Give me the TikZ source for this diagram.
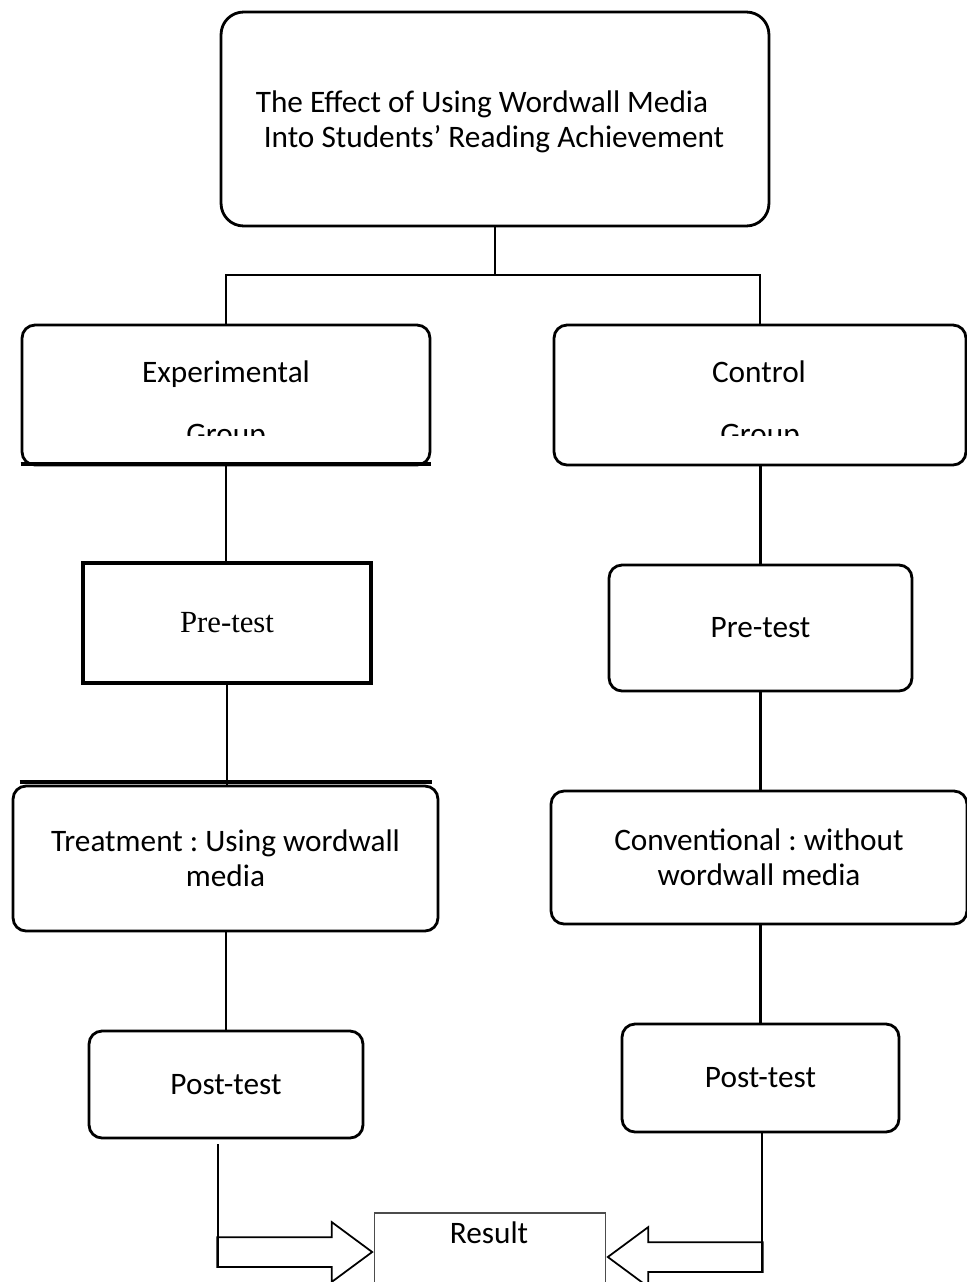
\documentclass[tikz,border=0pt]{standalone}
\usepackage{fontspec}
\setmainfont{Carlito}
\newfontfamily\timesfont{Liberation Serif}
\usetikzlibrary{shapes.arrows}
\frenchspacing

\begin{document}
\begin{tikzpicture}[x=0.02cm,y=-0.02cm,
    every node/.style={inner sep=0pt, font=\fontsize{17.8}{19.9}\selectfont},
    box/.style={draw, rounded corners=0.26cm, line width=1.6pt},
    plainbox/.style={draw, line width=2.1pt},
    link/.style={line width=1.6pt},
    bar/.style={line width=2.3pt},
    fatarrow/.style={draw, single arrow, line width=1pt, inner xsep=0pt, inner ysep=0.28cm,
        single arrow head extend=0.3cm, single arrow tip angle=73, minimum height=3.1cm}]
    \path[use as bounding box, fill=white] (0,0) rectangle (967,1282);
    % title
    \node[box, rounded corners=0.45cm, minimum width=10.96cm, minimum height=4.28cm] (title) at (495,119) {};
    \node[anchor=base] (titleA) at (482,112) {The Effect of Using Wordwall Media};
    \begin{scope}
        \clip (0,0) rectangle (967,152);
        \node[anchor=base] (titleB) at (494,147) {Into Students’ Reading Achievement};
    \end{scope}
    % groups
    \node[box, minimum width=8.16cm, minimum height=2.8cm] (exp) at (226,395) {};
    \node[anchor=base] (expA) at (226,382) {Experimental};
    \node[box, minimum width=8.24cm, minimum height=2.8cm] (ctrl) at (760,395) {};
    \node[anchor=base] (ctrlA) at (759,382) {Control};
    \begin{scope}
        \clip (0,400) rectangle (967,435);
        \node[anchor=base] (expB) at (226,444) {Group};
        \node[anchor=base] (ctrlB) at (760,444) {Group};
    \end{scope}
    \draw[bar] ([yshift=0.04cm]exp.south west) -- ([yshift=0.04cm]exp.south east);
    % left column
    \node[plainbox, minimum width=5.76cm, minimum height=2.4cm, font=\timesfont\fontsize{17.5}{20}\selectfont] (preL) at (227,623) {Pre-test};
    \node[box, align=center, minimum width=8.5cm, minimum height=2.9cm] (treat) at (225.5,858.5) {Treatment : Using wordwall\\media};
    \draw[bar] ([shift={(0.16cm,0.06cm)}]treat.north west) -- ([shift={(-0.14cm,0.06cm)}]treat.north east);
    \node[box, minimum width=5.48cm, minimum height=2.14cm] (postL) at (226,1084.5) {Post-test};
    % right column
    \node[box, minimum width=6.06cm, minimum height=2.52cm] (preR) at (760.5,628) {Pre-test};
    \node[box, align=center, minimum width=8.32cm, minimum height=2.66cm] (conv) at (759,857.5) {Conventional : without\\wordwall media};
    \node[box, minimum width=5.54cm, minimum height=2.16cm] (postR) at (760.5,1078) {Post-test};
    % result
    \node[draw=black!70, line width=0.7pt, minimum width=4.63cm, minimum height=1.72cm] (result) at (490,1256) {};
    \node[anchor=base] (resultText) at (489,1243) {Result};
    \node[fatarrow, anchor=tip] (arrL) at ([yshift=0.08cm]result.west) {};
    \node[fatarrow, shape border rotate=180, anchor=tip] (arrR) at ([yshift=-0.02cm]result.east) {};
    % connectors
    \coordinate (split) at (495,275);
    \draw[link] (title.south) -- (split);
    \draw[link] (exp.north) |- (split) -| (ctrl.north);
    \draw[link] (exp.south) -- (exp.south |- preL.north);
    \draw[link] (preL.south) -- (preL.south |- treat.north);
    \draw[link] (postL.north) -- (postL.north |- treat.south);
    \draw[link] (preR.north) -- (preR.north |- ctrl.south);
    \draw[link] (preR.south) -- (preR.south |- conv.north);
    \draw[link] (postR.north) -- (postR.north |- conv.south);
    \coordinate (footL) at (218,1266);
    \coordinate (footR) at (762,1272);
    \draw[line width=1.1pt] ([yshift=-0.1cm]postL.south -| footL) -- (footL);
    \draw[line width=1.1pt] (postR.south -| footR) -- (footR);
\end{tikzpicture}
\end{document}
